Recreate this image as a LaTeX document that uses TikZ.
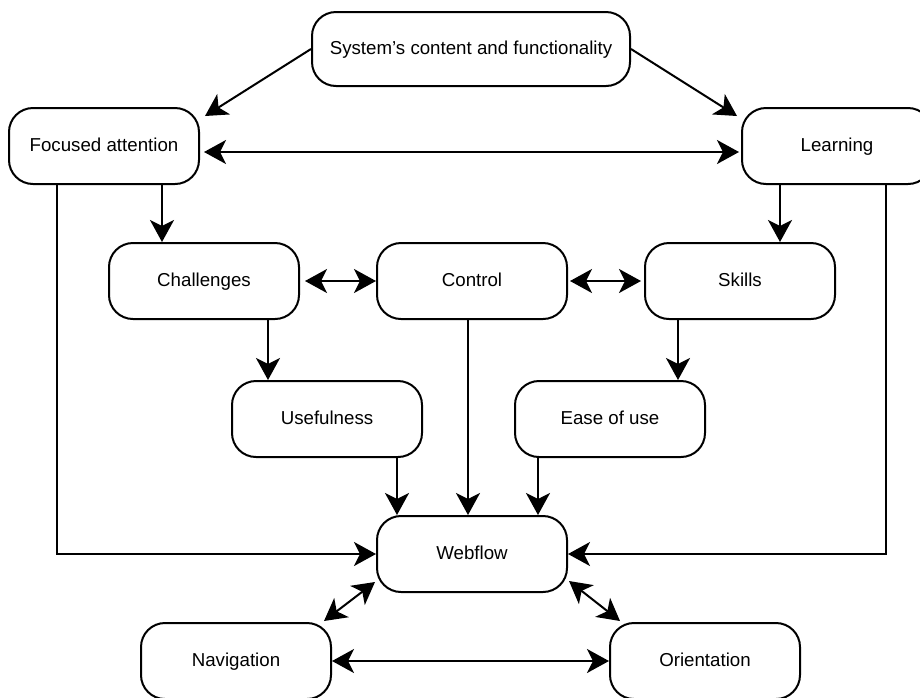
\documentclass[tikz,border=0pt]{standalone}
\usepackage{fontspec}
\setmainfont{Liberation Sans}
\usetikzlibrary{arrows.meta}

\begin{document}
\begin{tikzpicture}%
        [x=1pt, y=-1pt,
        >={Stealth[length=22pt,width=24pt,inset=6pt]},
        box/.style={draw, line width=2pt, rounded corners=24pt, inner sep=0pt,
                    minimum width=190pt, minimum height=76pt,
                    text height=13.5pt, text depth=3pt,
                    font=\fontsize{18.7}{22}\selectfont},
        link/.style={line width=2pt, ->},
        twoway/.style={line width=2pt, <->}]
    %%
    %% Page frame
    \useasboundingbox (0,0) rectangle (920,697);
    %%
    %% Drawing the boxes
    %%
    \node[box, minimum width=318pt, minimum height=74pt] (sys) at (471,49) {System’s content and functionality};
    \node[box] (focus)  at (104,146) {Focused attention};
    \node[box] (learn)  at (837,146) {Learning};
    \node[box] (chal)   at (204,281) {Challenges};
    \node[box] (ctrl)   at (472,281) {Control};
    \node[box] (skills) at (740,281) {Skills};
    \node[box] (useful) at (327,419) {Usefulness};
    \node[box] (ease)   at (610,419) {Ease of use};
    \node[box] (web)    at (472,554) {Webflow};
    \node[box] (nav)    at (236,661) {Navigation};
    \node[box] (orient) at (705,661) {Orientation};
    %%
    %% Drawing the connectors
    %%
    \draw[link] (sys.west) -- ([shift={(5,9)}]focus.north east);
    \draw[link] (sys.east) -- ([shift={(-4,9)}]learn.north west);
    \draw[twoway] ([shift={(4,6)}]focus.east) -- ([shift={(-2,6)}]learn.west);
    \draw[link] ([xshift=58pt]focus.south) -- ([xshift=58pt]focus.south |- chal.north);
    \draw[link] ([xshift=-57pt]learn.south) -- ([xshift=-57pt]learn.south |- skills.north);
    \draw[twoway] ([xshift=5pt]chal.east) -- (ctrl.west);
    \draw[twoway] ([xshift=2pt]ctrl.east) -- ([xshift=-3pt]skills.west);
    \draw[link] ([xshift=64pt]chal.south) -- ([xshift=64pt]chal.south |- useful.north);
    \draw[link] ([xshift=-62pt]skills.south) -- ([xshift=-62pt]skills.south |- ease.north);
    \draw[link] ([xshift=70pt]useful.south) -- ([xshift=70pt]useful.south |- web.north);
    \draw[link] ([xshift=-4pt]ctrl.south) -- ([xshift=-4pt]ctrl.south |- web.north);
    \draw[link] ([xshift=-72pt]ease.south) -- ([xshift=-72pt]ease.south |- web.north);
    \draw[link] ([xshift=-47pt]focus.south) |- (web.west);
    \draw[link] ([xshift=49pt]learn.south) |- (web.east);
    \draw[twoway] ([shift={(-1,-11)}]web.south west) -- ([shift={(-8,-1)}]nav.north east);
    \draw[twoway] ([shift={(1,-12)}]web.south east) -- ([shift={(11,-1)}]orient.north west);
    \draw[twoway] (nav.east) -- (orient.west);
    %%
\end{tikzpicture}
\end{document}
